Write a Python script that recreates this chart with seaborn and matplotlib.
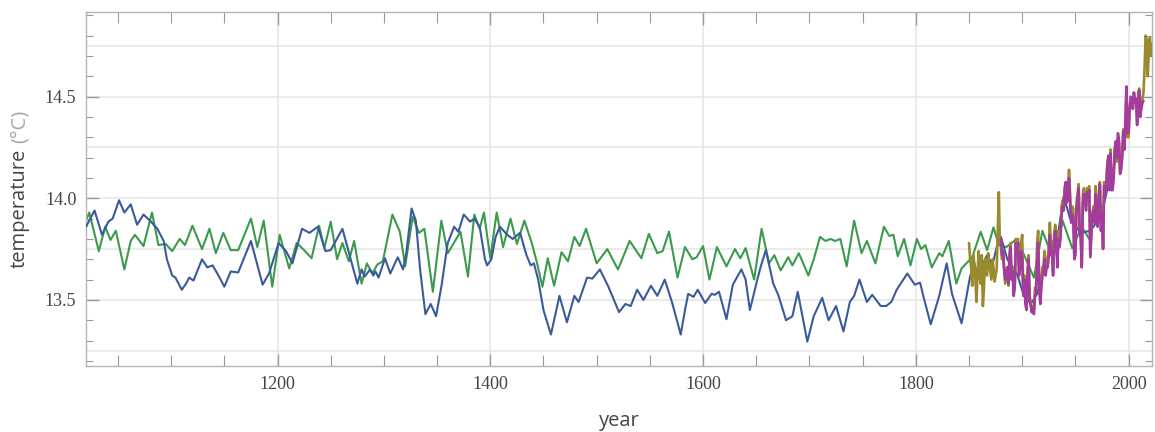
import numpy as np
import matplotlib
matplotlib.use("Agg")
import matplotlib.pyplot as plt
import seaborn as sns
from matplotlib.ticker import MultipleLocator, FixedLocator

# smoothed reconstruction 1 (blue)
blue_years = [1020, 1028, 1035, 1041, 1045, 1051, 1056, 1062, 1068, 1074, 1081, 1087, 1093, 1096,
              1101, 1104, 1110, 1114, 1117, 1121, 1129, 1134, 1139, 1145, 1150, 1156, 1163, 1175,
              1186, 1192, 1201, 1208, 1214, 1223, 1230, 1238, 1245, 1250, 1261, 1275, 1279, 1282,
              1287, 1290, 1292, 1295, 1301, 1306, 1313, 1318, 1321, 1326, 1330, 1334, 1339, 1344,
              1349, 1354, 1360, 1366, 1370, 1375, 1381, 1385, 1390, 1395, 1397, 1401, 1405, 1409,
              1416, 1421, 1428, 1434, 1438, 1441, 1445, 1450, 1457, 1465, 1472, 1479, 1483, 1491,
              1496, 1503, 1511, 1521, 1527, 1532, 1538, 1544, 1551, 1557, 1564, 1571, 1579, 1583,
              1586, 1591, 1595, 1602, 1608, 1611, 1615, 1622, 1628, 1636, 1640, 1644, 1651, 1654,
              1659, 1666, 1671, 1678, 1684, 1689, 1698, 1704, 1712, 1718, 1725, 1732, 1738, 1742,
              1747, 1754, 1759, 1767, 1772, 1777, 1782, 1792, 1799, 1804, 1807, 1814, 1822, 1829,
              1834, 1843, 1847, 1851, 1855, 1858, 1867, 1872, 1876, 1880, 1886, 1895, 1901, 1908,
              1914, 1923, 1933, 1939, 1945, 1955, 1964, 1974, 1983, 1990]
blue_temp = [13.86, 13.94, 13.82, 13.885, 13.90, 13.99, 13.93, 13.97, 13.87, 13.92, 13.885, 13.85, 13.79, 13.70,
             13.62, 13.61, 13.55, 13.58, 13.61, 13.595, 13.70, 13.66, 13.67, 13.615, 13.565, 13.64, 13.635, 13.79,
             13.575, 13.63, 13.78, 13.74, 13.68, 13.85, 13.83, 13.86, 13.74, 13.745, 13.85, 13.58, 13.65, 13.615,
             13.65, 13.62, 13.64, 13.61, 13.705, 13.63, 13.71, 13.65, 13.73, 13.95, 13.89, 13.65, 13.43, 13.48,
             13.42, 13.565, 13.78, 13.86, 13.835, 13.92, 13.885, 13.90, 13.86, 13.70, 13.67, 13.70, 13.81, 13.86,
             13.82, 13.80, 13.83, 13.72, 13.67, 13.68, 13.60, 13.45, 13.33, 13.52, 13.39, 13.52, 13.49, 13.61,
             13.605, 13.65, 13.565, 13.44, 13.48, 13.47, 13.55, 13.50, 13.57, 13.52, 13.60, 13.485, 13.33, 13.45,
             13.53, 13.515, 13.55, 13.485, 13.53, 13.525, 13.54, 13.405, 13.575, 13.65, 13.60, 13.45, 13.60, 13.66,
             13.745, 13.58, 13.52, 13.40, 13.42, 13.54, 13.295, 13.42, 13.51, 13.40, 13.47, 13.345, 13.49, 13.52,
             13.60, 13.49, 13.525, 13.47, 13.47, 13.49, 13.55, 13.63, 13.575, 13.585, 13.52, 13.38, 13.52, 13.68,
             13.53, 13.385, 13.50, 13.615, 13.68, 13.62, 13.72, 13.67, 13.76, 13.81, 13.70, 13.63, 13.53, 13.48,
             13.53, 13.70, 13.80, 14.01, 13.90, 13.83, 13.84, 13.91, 14.11, 14.22]

# smoothed reconstruction 2 (green)
green_years = [1020, 1023, 1032, 1038, 1043, 1048, 1056, 1062, 1066, 1074, 1082, 1088, 1095, 1101,
               1108, 1113, 1120, 1129, 1136, 1142, 1149, 1156, 1163, 1175, 1181, 1187, 1195, 1202,
               1211, 1218, 1225, 1232, 1239, 1244, 1250, 1256, 1261, 1267, 1272, 1279, 1284, 1289,
               1294, 1299, 1308, 1315, 1320, 1327, 1333, 1338, 1346, 1354, 1360, 1372, 1379, 1385,
               1390, 1394, 1400, 1406, 1412, 1419, 1425, 1432, 1439, 1444, 1449, 1454, 1460, 1467,
               1473, 1479, 1484, 1490, 1500, 1510, 1520, 1531, 1542, 1549, 1557, 1562, 1568, 1576,
               1583, 1590, 1594, 1600, 1606, 1613, 1622, 1630, 1635, 1640, 1648, 1655, 1662, 1667,
               1673, 1680, 1684, 1690, 1699, 1704, 1710, 1715, 1720, 1724, 1729, 1735, 1742, 1749,
               1754, 1762, 1770, 1775, 1779, 1783, 1789, 1795, 1801, 1805, 1809, 1815, 1822, 1825,
               1831, 1838, 1843, 1853, 1861, 1867, 1873, 1878, 1885, 1895, 1901, 1911, 1919, 1929,
               1938, 1947, 1956, 1963]
green_temp = [13.89, 13.93, 13.74, 13.86, 13.795, 13.84, 13.65, 13.79, 13.82, 13.765, 13.93, 13.77, 13.775, 13.74,
              13.80, 13.77, 13.865, 13.75, 13.85, 13.73, 13.83, 13.745, 13.745, 13.90, 13.76, 13.89, 13.565, 13.82,
              13.655, 13.78, 13.745, 13.705, 13.865, 13.755, 13.885, 13.70, 13.78, 13.69, 13.79, 13.58, 13.68, 13.63,
              13.675, 13.69, 13.92, 13.835, 13.665, 13.91, 13.83, 13.85, 13.54, 13.89, 13.73, 13.835, 13.615, 13.92,
              13.85, 13.93, 13.705, 13.93, 13.76, 13.90, 13.775, 13.89, 13.78, 13.68, 13.565, 13.705, 13.57, 13.735,
              13.69, 13.81, 13.765, 13.85, 13.68, 13.75, 13.65, 13.79, 13.705, 13.825, 13.73, 13.74, 13.836, 13.61,
              13.76, 13.70, 13.71, 13.765, 13.60, 13.76, 13.665, 13.75, 13.705, 13.755, 13.60, 13.85, 13.68, 13.72,
              13.645, 13.71, 13.67, 13.73, 13.62, 13.70, 13.81, 13.79, 13.80, 13.79, 13.80, 13.665, 13.89, 13.73,
              13.79, 13.68, 13.86, 13.815, 13.82, 13.715, 13.80, 13.67, 13.80, 13.75, 13.77, 13.66, 13.73, 13.715,
              13.79, 13.58, 13.655, 13.71, 13.835, 13.745, 13.857, 13.77, 13.76, 13.80, 13.73, 13.61, 13.84, 13.70,
              13.89, 13.755, 13.86, 13.80]

# instrumental record, annual (olive), 1850-2022
olive_years = list(range(1850, 2023))
olive_temp = [13.78, 13.70, 13.66, 13.57, 13.72, 13.68, 13.60, 13.49, 13.63, 13.74,
              13.62, 13.58, 13.72, 13.47, 13.55, 13.70, 13.66, 13.62, 13.73, 13.68,
              13.64, 13.60, 13.70, 13.66, 13.59, 13.62, 13.65, 13.85, 14.03, 13.78,
              13.76, 13.70, 13.74, 13.64, 13.58, 13.62, 13.66, 13.57, 13.72, 13.78,
              13.62, 13.66, 13.54, 13.58, 13.80, 13.74, 13.80, 13.64, 13.68, 13.78,
              13.82, 13.54, 13.62, 13.50, 13.46, 13.64, 13.72, 13.52, 13.49, 13.44,
              13.47, 13.45, 13.56, 13.55, 13.78, 13.84, 13.58, 13.50, 13.60, 13.66,
              13.67, 13.74, 13.66, 13.70, 13.70, 13.76, 13.88, 13.76, 13.79, 13.64,
              13.82, 13.87, 13.82, 13.70, 13.84, 13.80, 13.82, 13.96, 13.99, 13.96,
              14.06, 14.07, 14.02, 14.03, 14.14, 14.02, 13.90, 13.96, 13.95, 13.72,
              13.74, 13.98, 14.02, 14.07, 13.86, 13.83, 13.68, 14.02, 14.05, 14.01,
              13.96, 14.05, 14.04, 14.06, 13.72, 13.86, 13.93, 13.96, 13.91, 14.06,
              14.00, 13.89, 13.98, 14.08, 13.88, 13.96, 13.76, 14.08, 14.04, 14.07,
              14.17, 14.20, 14.06, 14.24, 14.07, 14.06, 14.12, 14.24, 14.27, 14.18,
              14.30, 14.27, 14.13, 14.16, 14.22, 14.34, 14.24, 14.36, 14.54, 14.30,
              14.30, 14.44, 14.48, 14.48, 14.44, 14.52, 14.47, 14.48, 14.38, 14.52,
              14.54, 14.42, 14.46, 14.49, 14.52, 14.64, 14.80, 14.78, 14.60, 14.72,
              14.79, 14.70, 14.76]

# instrumental record, annual (purple), 1880-2014
purple_years = list(range(1880, 2015))
purple_temp = [13.80, 13.72, 13.74, 13.66, 13.60, 13.62, 13.66, 13.58, 13.70, 13.76,
               13.60, 13.64, 13.52, 13.56, 13.78, 13.72, 13.78, 13.62, 13.66, 13.74,
               13.70, 13.52, 13.60, 13.48, 13.45, 13.62, 13.70, 13.50, 13.47, 13.44,
               13.46, 13.43, 13.52, 13.54, 13.70, 13.78, 13.56, 13.48, 13.56, 13.62,
               13.64, 13.70, 13.62, 13.66, 13.66, 13.72, 13.82, 13.72, 13.74, 13.62,
               13.78, 13.84, 13.80, 13.66, 13.80, 13.76, 13.80, 13.92, 13.96, 13.94,
               14.04, 14.08, 13.98, 14.00, 14.10, 13.98, 13.88, 13.92, 13.90, 13.70,
               13.72, 13.94, 13.99, 14.05, 13.84, 13.80, 13.66, 13.98, 14.02, 13.99,
               13.94, 14.03, 14.01, 14.04, 13.71, 13.82, 13.92, 13.94, 13.88, 14.02,
               13.98, 13.86, 13.95, 14.07, 13.84, 13.92, 13.75, 14.06, 14.02, 14.06,
               14.16, 14.21, 14.04, 14.22, 14.04, 14.04, 14.10, 14.24, 14.28, 14.20,
               14.32, 14.28, 14.12, 14.14, 14.20, 14.33, 14.24, 14.38, 14.55, 14.32,
               14.32, 14.44, 14.50, 14.49, 14.44, 14.52, 14.48, 14.49, 14.36, 14.48,
               14.53, 14.40, 14.44, 14.47, 14.48]

sns.set_theme(style="white")
plt.rcParams['font.family'] = ['DejaVu Sans']

fig = plt.figure(figsize=(11.55, 4.32), dpi=100)
ax = fig.add_axes([0.0745, 0.1528, 0.9229, 0.8202])

# grid
for yv in np.arange(13.25, 14.8, 0.25):
    ax.axhline(yv, color="#e4e4e4", lw=1.1, zorder=0)
for xv in range(1200, 2001, 200):
    ax.axvline(xv, color="#e4e4e4", lw=1.1, zorder=0)

sns.lineplot(x=green_years, y=green_temp, ax=ax, color="#3b9a4c", lw=1.5, zorder=2)
sns.lineplot(x=blue_years, y=blue_temp, ax=ax, color="#3a5a9c", lw=1.5, zorder=3)
sns.lineplot(x=olive_years, y=olive_temp, ax=ax, color="#9a8a2e", lw=1.9, zorder=4)
sns.lineplot(x=purple_years, y=purple_temp, ax=ax, color="#a33c9c", lw=1.9, zorder=5)

ax.set_xlim(1020, 2022)
ax.set_ylim(13.175, 14.918)

ax.xaxis.set_major_locator(FixedLocator([1200, 1400, 1600, 1800, 2000]))
ax.xaxis.set_minor_locator(MultipleLocator(50))
ax.yaxis.set_major_locator(FixedLocator([13.5, 14.0, 14.5]))
ax.yaxis.set_minor_locator(MultipleLocator(0.1))
ax.set_yticklabels(["13.5", "14.0", "14.5"])

for side in ax.spines.values():
    side.set_color("#b4b4b4")
    side.set_linewidth(1.0)

ax.tick_params(which="both", direction="in", top=True, right=True, bottom=True, left=True,
               color="#9a9a9a")
ax.tick_params(which="major", length=9, width=1.0, labelsize=13, labelcolor="#444444", pad=7)
ax.tick_params(which="minor", length=5, width=0.8)
ax.tick_params(axis="x", which="minor", length=8)
for lab in ax.get_xticklabels() + ax.get_yticklabels():
    lab.set_family("Liberation Serif")

ax.set_xlabel("year", fontsize=14.5, color="#444444", labelpad=13, family="Open Sans")
ax.set_ylabel("")

# y label in two tones, laid end to end
fig.canvas.draw()
r = fig.canvas.get_renderer()
lab_x = 0.017
full = fig.text(lab_x, 0.5, "temperature (°C)", rotation=90, rotation_mode="anchor",
                ha="left", va="center", fontsize=14.5, family="Open Sans")
unit = fig.text(lab_x, 0.5, "(°C)", rotation=90, rotation_mode="anchor",
                ha="left", va="center", fontsize=14.5, family="Open Sans")
full_len = full.get_window_extent(renderer=r).height / fig.bbox.height
unit_len = unit.get_window_extent(renderer=r).height / fig.bbox.height
full.remove()
y0 = (0.1528 + 0.8202 / 2) - full_len / 2
fig.text(lab_x, y0, "temperature", rotation=90, rotation_mode="anchor",
         ha="left", va="center", fontsize=14.5, color="#444444", family="Open Sans")
unit.set_position((lab_x, y0 + full_len - unit_len))
unit.set_color("#a6a6a6")

fig.savefig("out.png", dpi=100)
